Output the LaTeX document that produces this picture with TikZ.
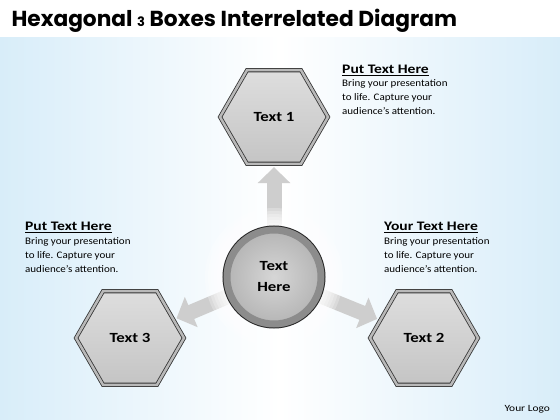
\documentclass[tikz,border=0pt]{standalone}
\usepackage{fontspec}
\setmainfont{Carlito}[FakeStretch=1.1]
\newfontfamily\widefont{Carlito}[FakeStretch=1.2]
\newfontfamily\titlefont{Poppins}
\usetikzlibrary{positioning,shapes.geometric,arrows.meta}
\definecolor{bgblue}{RGB}{216,237,249}
\definecolor{arrowgray}{RGB}{206,206,206}
\tikzset{
    hexbox/.style={
           regular polygon, regular polygon sides=6,
           minimum size=108pt, inner sep=0pt,
           draw=gray!40!black, line width=0.8pt,
           double=gray!55, double distance=2.5pt,
           top color=gray!26, bottom color=gray!46,
           font=\widefont\fontsize{14}{16}\selectfont\bfseries,
           },
}
\tikzset{
    hub/.style={
           circle, minimum size=94pt, inner sep=0pt,
           preaction={draw=gray!30!black, line width=9pt},
           draw=gray!90, line width=7pt,
           inner color=gray!32, outer color=gray!58,
           align=center,
           font=\widefont\fontsize{14}{21}\selectfont\bfseries,
           },
}
\tikzset{
    flow/.style={
           draw=arrowgray, line width=15pt,
           -{Triangle[length=16pt,width=32pt]},
           shorten <=6pt, shorten >=3pt,
           },
}
\tikzset{
    info/.style={
           align=left, inner sep=0pt, anchor=base west,
           font=\fontsize{10}{13.7}\selectfont,
           },
}
\newcommand{\infohead}[1]{{\widefont\fontsize{13}{14}\selectfont\bfseries\underline{#1}}}

\begin{document}
\begin{tikzpicture}[x=1pt,y=-1pt]
\useasboundingbox (0,0) rectangle (560,420);
\fill[white] (0,0) rectangle (560,38);
\shade[left color=bgblue, right color=bgblue, middle color=white] (0,38) rectangle (560,420);
\node[anchor=base west] (title) at (8,27) {\titlefont\bfseries\fontsize{21.7}{24}\selectfont Hexagonal {\fontsize{13}{14}\selectfont 3} Boxes Interrelated Diagram};
\coordinate (mid) at (274,277);
\node[hexbox] (hexA) at (274,117) {Text 1};
\node[hexbox] (hexB) at (424,338) {Text 2};
\node[hexbox] (hexC) at (130,338) {Text 3};
\draw[flow] (mid) -- (hexA);
\draw[flow] (mid) -- (hexB);
\draw[flow] (mid) -- (hexC);
% soft fade of the arrow tails
\foreach \r in {51,54,...,69}
  \fill[white,opacity=0.25] (mid) circle (\r pt);
\node[hub] (center) at (mid) {Text\\Here};
\node[info] (infoA) at (342,114.4) {\infohead{Put Text Here}\\Bring your presentation\\to life. Capture your\\audience’s attention.};
\node[info] (infoB) at (384,272) {\infohead{Your Text Here}\\Bring your presentation\\to life. Capture your\\audience’s attention.};
\node[info] (infoC) at (25,272) {\infohead{Put Text Here}\\Bring your presentation\\to life. Capture your\\audience’s attention.};
\node[anchor=base west, font=\widefont\fontsize{9.5}{11}\selectfont] (logo) at (501,411) {Your Logo};
\end{tikzpicture}
\end{document}
